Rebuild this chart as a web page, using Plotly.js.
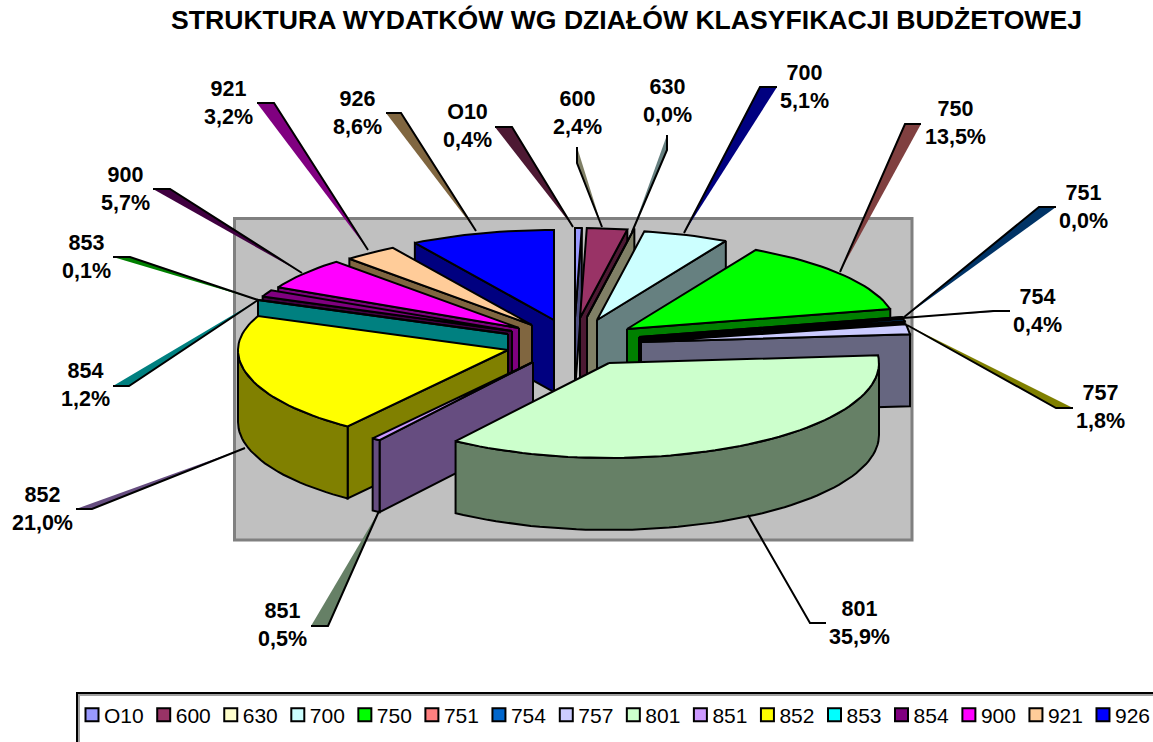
<!DOCTYPE html>
<html>
<head>
<meta charset="utf-8">
<script src="https://cdn.plot.ly/plotly-3.0.1.min.js"></script>
<style>html,body{margin:0;padding:0;background:#fff}#chart{width:1153px;height:742px}</style>
</head>
<body>
<div id="chart"></div>
<script>
// Data
const categories = ['O10','600','630','700','750','751','754','757','801','851','852','853','854','900','921','926'];
const shares = [0.4,2.4,0.0,5.1,13.5,0.0,0.4,1.8,35.9,0.5,21.0,0.1,1.2,5.7,3.2,8.6];
const topColors = ['#9999FF','#993366','#FFFFCC','#CCFFFF','#00FF00','#FF8080','#0066CC','#CCCCFF','#CCFFCC','#CC99FF','#FFFF00','#00FFFF','#800080','#FF00FF','#FFCC99','#0000FF'];
const wallColors = ['#4D4D80','#4D1933','#808066','#668080','#008000','#000000','#000000','#666680','#668066','#664D80','#808000','#008080','#400040','#800080','#806640','#000080'];

// Layout of the exploded 3-D pie (apex of each slice, in the pixel-scaled hidden axes)
const apexX = [575,580,587,597,627,639,640,641,609,533,508,508,512,519,532,554];
const apexY = [318,318,317,320,329,337,339,342,363,362,350,334,331,328,325,320];
const drawOrder = [15,14,13,12,11,10,0,1,2,3,4,5,6,7,9,8];
const radiusX = 270, radiusBack = 90, radiusFront = 95, wallHeight = 72;

// Label blocks
const labelX = [467,577,667,804,955,1083,1037,1100,859,282,42,86,85,125,228,357];
const labelY = [126,113,101,87,123,207,311,407,623,625,509,257,385,189,103,113];

// Callout leaders: anchor on slice, elbow, free end
const anchorX = [573,602,632,684,840,903,903,907,748,379,245,258,258,302,368,476];
const anchorY = [227,227,232,233,272,318,318,325,515,511,448,300,300,273,250,231];
const elbowX  = [512,577,667,760,905,1039,993,1056,810,328,92,130,129,170,274,401];
const elbowY  = [127,163,150,87,124,207,311,408,623,626,509,257,386,189,103,113];
const endX    = [495,577,667,777,921,1056,1010,1073,826,311,76,113,113,153,257,386];
const endY    = [127,147,135,87,124,207,311,408,623,626,509,257,386,189,103,113];
const calloutColors = ['#4D1933','#808066','#668080','#000080','#804040','#003366','#666680','#808000','rgba(0,0,0,0)','#668066','#664D80','#008000','#008080','#400040','#800080','#806640'];

const total = shares.reduce((a,b)=>a+b,0);
const starts = []; let run = 0;
shares.forEach(v=>{starts.push(run/total*360); run+=v;});
const rad = d=>d*Math.PI/180;
function pt(i,deg,drop){
  const c = Math.cos(rad(deg));
  return [apexX[i]+radiusX*Math.sin(rad(deg)), apexY[i]-(c>0?radiusBack:radiusFront)*c+(drop||0)];
}
function arc(i,a,b,drop){
  const out=[]; const n=Math.max(1,Math.ceil((b-a)/2));
  for(let k=0;k<=n;k++) out.push(pt(i,a+(b-a)*k/n,drop));
  return out;
}
function face(points,color){
  const closed = points.concat([points[0]]);
  return {x:closed.map(p=>p[0]),y:closed.map(p=>p[1]),type:'scatter',mode:'lines',fill:'toself',
    fillcolor:color,line:{color:'#000',width:2,shape:'linear'},showlegend:false,hoverinfo:'skip'};
}
const traces=[];
drawOrder.forEach(i=>{
  const a=starts[i], b=a+shares[i]/total*360;
  const ap=[apexX[i],apexY[i]], apLow=[apexX[i],apexY[i]+wallHeight];
  if(Math.sin(rad(b))>0.001) traces.push(face([ap,pt(i,b),pt(i,b,wallHeight),apLow],wallColors[i]));
  if(Math.sin(rad(a))<-0.001) traces.push(face([ap,pt(i,a),pt(i,a,wallHeight),apLow],wallColors[i]));
  const wa=Math.max(a,90), wb=Math.min(b,270);
  if(wb>wa) traces.push(face(arc(i,wa,wb,0).concat(arc(i,wa,wb,wallHeight).reverse()),wallColors[i]));
  traces.push(face([ap].concat(arc(i,a,b,0)),topColors[i]));
});
// Legend entries
categories.forEach((c,i)=>{
  traces.push({x:[null],y:[null],type:'scatter',mode:'markers',name:c,showlegend:true,hoverinfo:'skip',
    marker:{symbol:'square',size:13,color:topColors[i],line:{color:'#000',width:2}}});
});

const shapes=[
  {type:'rect',layer:'below',xref:'x',yref:'y',x0:234.5,x1:912,y0:218.5,y1:540,fillcolor:'#C0C0C0',line:{color:'#808080',width:3}},
  {type:'rect',layer:'below',xref:'x',yref:'y',x0:79,x1:1190,y0:695,y1:790,fillcolor:'rgba(0,0,0,0)',line:{color:'#A0A0A0',width:2}},
  {type:'rect',layer:'below',xref:'x',yref:'y',x0:77,x1:1190,y0:693,y1:790,fillcolor:'rgba(0,0,0,0)',line:{color:'#000',width:2}}
];
categories.forEach((c,i)=>{
  shapes.push({type:'path',layer:'above',xref:'x',yref:'y',
    path:`M${anchorX[i]},${anchorY[i]}L${elbowX[i]},${elbowY[i]}L${endX[i]},${endY[i]}Z`,
    fillcolor:calloutColors[i],line:{width:0}});
  shapes.push({type:'path',layer:'above',xref:'x',yref:'y',
    path:`M${anchorX[i]},${anchorY[i]}L${elbowX[i]},${elbowY[i]}L${endX[i]},${endY[i]}`,
    fillcolor:'rgba(0,0,0,0)',line:{color:'#000',width:2}});
});
const font='"Liberation Sans", Arial, sans-serif';
const annotations=categories.map((c,i)=>({
  xref:'x',yref:'y',x:labelX[i],y:labelY[i],xanchor:'center',yanchor:'middle',align:'center',showarrow:false,
  text:`<b>${c}<br>${shares[i].toFixed(1).replace('.',',')}%</b>`,font:{family:font,size:21.5,color:'#000'}
}));

const layout={
  width:1153,height:742,margin:{l:0,r:0,t:0,b:0,autoexpand:false},paper_bgcolor:'#fff',plot_bgcolor:'rgba(0,0,0,0)',
  title:{text:'<b>STRUKTURA WYDATKÓW WG DZIAŁÓW KLASYFIKACJI BUDŻETOWEJ</b>',x:626.5/1153,xanchor:'center',y:1-20/742,yanchor:'middle',
    font:{family:font,size:26.6,color:'#000'}},
  xaxis:{range:[0,1153],visible:false,fixedrange:true},
  yaxis:{range:[742,0],visible:false,fixedrange:true},
  showlegend:true,
  legend:{orientation:'h',x:77/1153,xanchor:'left',y:1-715/742,yanchor:'middle',bgcolor:'rgba(0,0,0,0)',borderwidth:0,
    indentation:-13,font:{family:font,size:21,color:'#000'},itemsizing:'trace'},
  shapes,annotations
};
Plotly.newPlot('chart',traces,layout,{displayModeBar:false,staticPlot:true}).then(()=>{
  document.querySelectorAll('.legend .legendpoints').forEach(g=>g.setAttribute('transform','translate(8,0)'));
});
</script>
</body>
</html>
